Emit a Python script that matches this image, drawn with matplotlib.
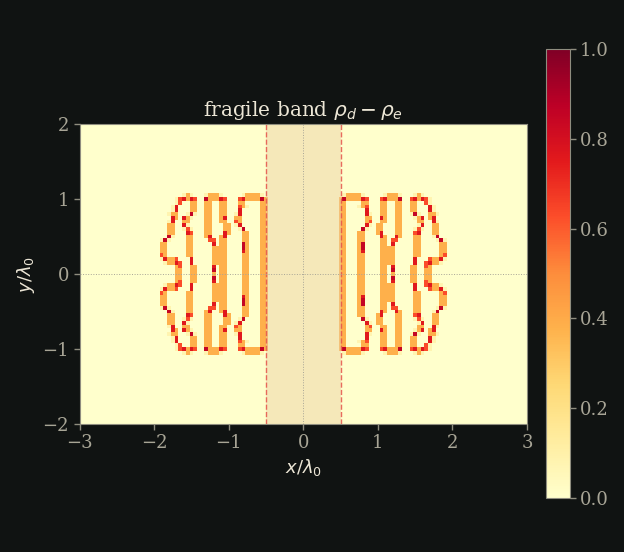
import numpy as np
import matplotlib
matplotlib.use("Agg")
import matplotlib.pyplot as plt

# one quadrant of the map, rows go up from y=0, columns run from x=-1.95 to x=-0.5
quadrant_rows = [
    ".....oo..oo....o.oo....oo...oo",
    ".....oo..oo....d.oo....oo...oo",
    ".....ox..oo....r.oo....oo...oo",
    "..foorx..r.....oooo....oo...oo",
    ".froox...r.....oooo....oo...oo",
    ".xo.....oo.....oooo....oo...oo",
    ".oo.....oo.....oooo....ro...oo",
    ".oo.....oo.....oooo....do...oo",
    ".oo.....oo.....r.oo....do...oo",
    ".fdf....oo....xx.oo....oo...oo",
    "...df...oo...or..or....oo...oo",
    "...oo...rx...oo...ro...oo...oo",
    "...oo..fxf...oo...oo..fd....oo",
    "...oo..rf....oo...oo.fr.....oo",
    "...fr..oo....oo..oo..xo.....oo",
    "....ro.rof...oo..or..oo.....oo",
    "...foo..fdf..oo..oo..fr.....oo",
    "....fr...oo..oo..oo...r.....oo",
    "....fr...oo..oo..oo...xof...oo",
    ".....fx..oo..oo..oo...oo....oo",
    ".....fxrorx..dooorx...xroooodo",
    ".......fof...fooof.....foooof.",
]
cell_values = {".": 0.0, "f": 0.08, "o": 0.38, "x": 0.63, "r": 0.76, "d": 0.85}

x = np.linspace(-3, 3, 121)
y = np.linspace(-2, 2, 81)

quadrant = np.array([[cell_values[c] for c in row] for row in quadrant_rows])
nrows, ncols = quadrant.shape

# the map mirrors in both x and y
rho = np.zeros((y.size, x.size))
ix0 = np.argmin(np.abs(x + 0.5)) - ncols + 1
iy0 = np.argmin(np.abs(y))
left = np.zeros((y.size, ncols))
left[iy0:iy0 + nrows] = quadrant
left[iy0 - nrows + 1:iy0 + 1] = quadrant[::-1]
rho[:, ix0:ix0 + ncols] = left
rho[:, -ix0 - ncols:-ix0 if ix0 else None] = left[:, ::-1]

bg = "#101312"
tick_col = "#a8a596"
text_col = "#ece6d6"
edge_col = "#8f8d7f"

plt.rcParams["font.family"] = "DejaVu Serif"
plt.rcParams["mathtext.fontset"] = "dejavusans"

W, H = 624, 552
fig = plt.figure(figsize=(W / 100, H / 100), dpi=100, facecolor=bg)
ax = fig.add_axes([79.5 / W, 1 - 424 / H, 447.5 / W, 300 / H])
ax.set_facecolor(bg)

mesh = ax.pcolormesh(x, y, rho, cmap="YlOrRd", vmin=0, vmax=1, shading="nearest")
ax.axvspan(-0.5, 0.5, color="#ecd2a8", alpha=0.5, lw=0)
ax.axvline(-0.5, color="#e5534b", ls="--", lw=1.0, alpha=0.85)
ax.axvline(0.5, color="#e5534b", ls="--", lw=1.0, alpha=0.85)
ax.axhline(0, color="#a8a596", ls=":", lw=0.7)
ax.axvline(0, color="#a8a596", ls=":", lw=0.7)

ax.set_xlim(-3, 3)
ax.set_ylim(-2, 2)
ax.set_xticks([-3, -2, -1, 0, 1, 2, 3])
ax.set_yticks([-2, -1, 0, 1, 2])
ax.tick_params(colors=tick_col, labelsize=13, color=edge_col, length=4, width=1)
for s in ax.spines.values():
    s.set_color(edge_col)
ax.set_xlabel(r"$x/\lambda_0$", color=text_col, fontsize=13, labelpad=3)
ax.set_ylabel(r"$y/\lambda_0$", color=text_col, fontsize=13, labelpad=4)
ax.set_title(r"fragile band $\rho_d - \rho_e$", color=text_col, fontsize=14.5, pad=6)

cax = fig.add_axes([546 / W, 1 - 498 / H, 23.5 / W, 449 / H])
cb = fig.colorbar(mesh, cax=cax)
cb.set_ticks([0, 0.2, 0.4, 0.6, 0.8, 1.0])
cb.ax.tick_params(colors=tick_col, labelsize=13, color=edge_col, length=4, width=1)
cb.outline.set_edgecolor(edge_col)

fig.savefig("out.png", dpi=100, facecolor=bg)
plt.close(fig)
